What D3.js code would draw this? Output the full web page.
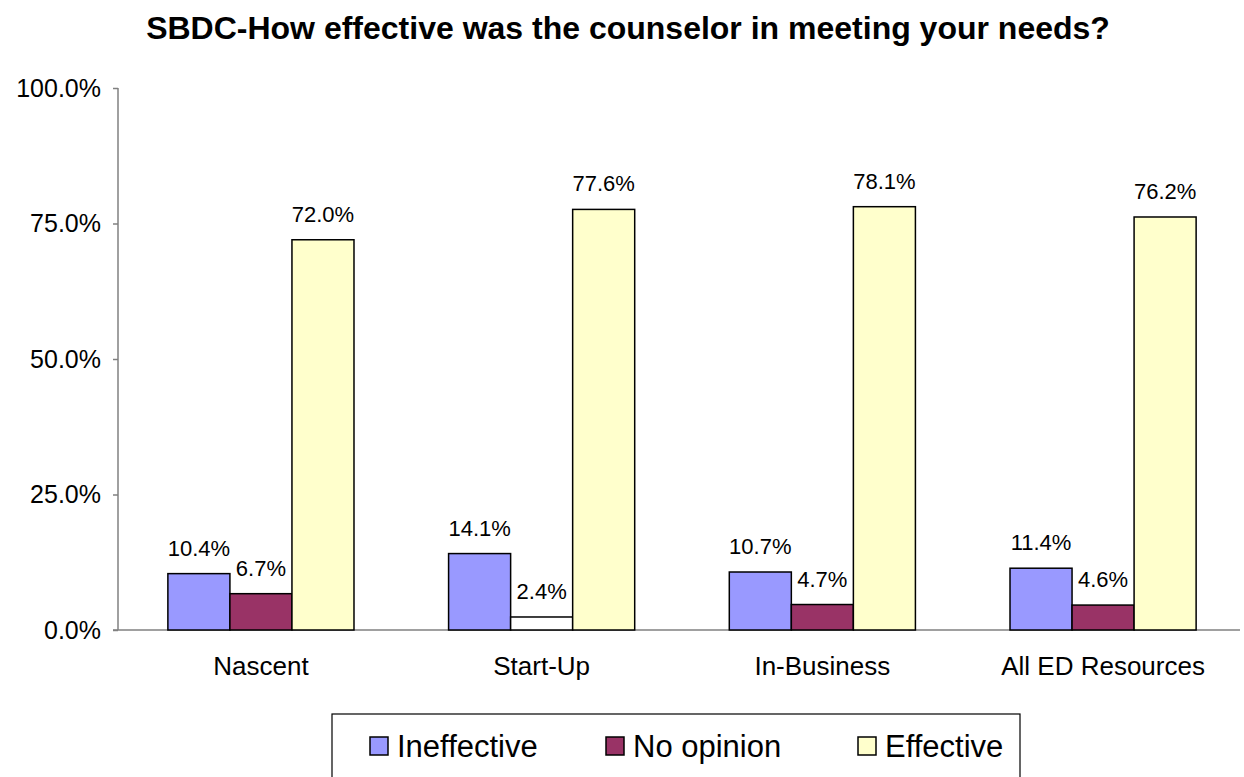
<!DOCTYPE html>
<html>
<head>
<meta charset="utf-8">
<script src="https://cdn.jsdelivr.net/npm/d3@7"></script>
<style>
  html, body { margin: 0; padding: 0; background: #fff; }
  svg { display: block; font-family: Arial, "Liberation Sans", sans-serif; }
</style>
</head>
<body>
<svg id="chart" width="1244" height="777"></svg>
<script>
const title = "SBDC-How effective was the counselor in meeting your needs?";
const categories = ["Nascent", "Start-Up", "In-Business", "All ED Resources"];
const seriesNames = ["Ineffective", "No opinion", "Effective"];
const ineffective = [10.4, 14.1, 10.7, 11.4];
const noOpinion = [6.7, 2.4, 4.7, 4.6];
const effective = [72.0, 77.6, 78.1, 76.2];
const yTicks = [0, 25, 50, 75, 100];

const seriesValues = [ineffective, noOpinion, effective];
const colors = ["#9999FF", "#993366", "#FFFFCC"];
// point that the original draws with a white fill
const fillOverride = { "No opinion|Start-Up": "#FFFFFF" };

const svg = d3.select("#chart");
const pLeft = 118, pRight = 1240, pTop = 88, pBottom = 630;

const x0 = d3.scaleBand().domain(categories).range([pLeft + 3, pRight + 3]).paddingInner(0.337).paddingOuter(0.167);
const x1 = d3.scaleBand().domain(seriesNames).range([0, x0.bandwidth()]);
const y = d3.scaleLinear().domain([0, 100]).range([pBottom, pTop]);

// title
svg.append("text").attr("x", 628).attr("y", 39).attr("text-anchor", "middle")
  .attr("font-weight", "bold").attr("font-size", 32).text(title);

// y axis
const yAxis = d3.axisLeft(y).tickValues(yTicks).tickSize(5).tickPadding(12)
  .tickFormat(d => d.toFixed(1) + "%");
const ya = svg.append("g").attr("transform", `translate(${pLeft},0)`).call(yAxis);
ya.select(".domain").attr("stroke", "#808080").attr("stroke-width", 1.5).attr("d", `M0,${pTop}V${pBottom}`);
ya.selectAll(".tick line").attr("stroke", "#808080").attr("stroke-width", 1.5);
ya.selectAll(".tick text").attr("font-size", 25).attr("fill", "#000").attr("font-family", "Arial, 'Liberation Sans', sans-serif");

// x axis
const xAxis = d3.axisBottom(x0).tickSize(0).tickPadding(27);
const xa = svg.append("g").attr("transform", `translate(0,${pBottom})`).call(xAxis);
xa.select(".domain").attr("stroke", "#808080").attr("stroke-width", 1.5).attr("d", `M${pLeft - 5},0H${pRight}`);
xa.selectAll(".tick text").attr("font-size", 26).attr("fill", "#000").attr("font-family", "Arial, 'Liberation Sans', sans-serif");

// bars
const rows = [];
seriesNames.forEach((s, si) => {
  categories.forEach((c, ci) => {
    rows.push({ series: s, cat: c, value: seriesValues[si][ci], si });
  });
});

const bars = svg.append("g");
bars.selectAll("rect").data(rows).join("rect")
  .attr("x", d => x0(d.cat) + x1(d.series))
  .attr("y", d => y(d.value))
  .attr("width", x1.bandwidth())
  .attr("height", d => y(0) - y(d.value))
  .attr("fill", d => fillOverride[d.series + "|" + d.cat] || colors[d.si])
  .attr("stroke", "#000").attr("stroke-width", 1.5);

bars.selectAll("text").data(rows).join("text")
  .attr("x", d => x0(d.cat) + x1(d.series) + x1.bandwidth() / 2)
  .attr("y", d => y(d.value) - 18)
  .attr("text-anchor", "middle").attr("font-size", 22)
  .text(d => d.value.toFixed(1) + "%");

// legend
const lg = svg.append("g");
lg.append("rect").attr("x", 332).attr("y", 714).attr("width", 688).attr("height", 80)
  .attr("fill", "#fff").attr("stroke", "#000").attr("stroke-width", 1.2);
const legendX = [370, 606, 858];
seriesNames.forEach((s, i) => {
  const g = lg.append("g").attr("transform", `translate(${legendX[i]},737)`);
  g.append("rect").attr("width", 18).attr("height", 18).attr("fill", colors[i])
    .attr("stroke", "#000").attr("stroke-width", 1.5);
  g.append("text").attr("x", 27).attr("y", 20).attr("font-size", 31).text(s);
});
</script>
</body>
</html>
